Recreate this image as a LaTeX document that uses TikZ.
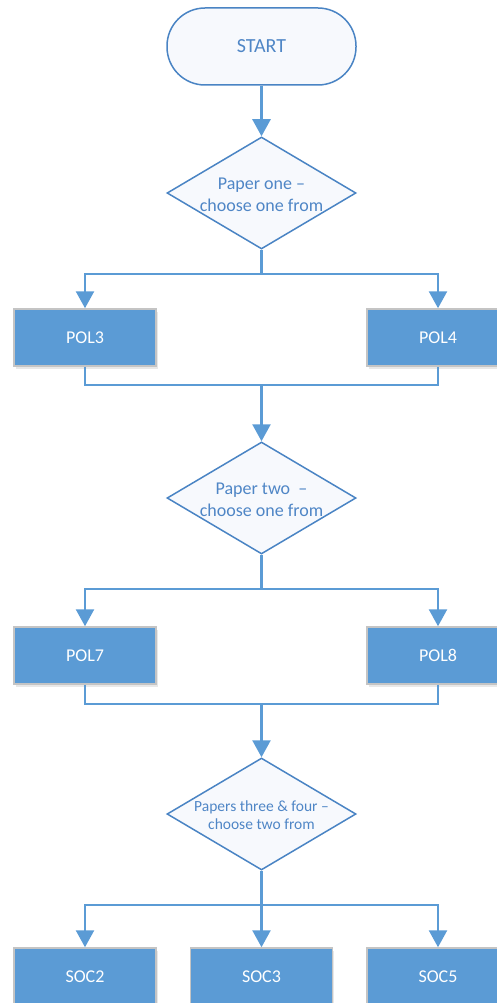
\documentclass[tikz,border=0pt]{standalone}
\usepackage{fontspec}
\setmainfont{Carlito}
\usetikzlibrary{arrows.meta,shapes.geometric,shadows}
\definecolor{lineblue}{HTML}{5B9BD5}
\definecolor{strokeblue}{HTML}{4A84C4}
\definecolor{textblue}{HTML}{4F86C6}
\definecolor{palefill}{HTML}{F7F9FD}
\definecolor{boxfill}{HTML}{5B9BD5}
\definecolor{boxedge}{HTML}{C4C4C4}
\tikzset{
  terminal/.style={draw=strokeblue, line width=1.5pt, fill=palefill, rounded corners=38pt,
    minimum width=189pt, minimum height=77pt, inner sep=0pt, text=textblue,
    font=\fontsize{20}{24}\selectfont},
  dia/.style={diamond, draw=strokeblue, line width=1.5pt, fill=palefill, inner sep=0pt,
    minimum width=189pt, minimum height=112pt, aspect=1.6875},
  dtext/.style={align=center, text=textblue, inner sep=0pt, font=\fontsize{18}{22}\selectfont},
  dtextsmall/.style={align=center, text=textblue, inner sep=0pt, font=\fontsize{15.5}{18}\selectfont},
  stepbox/.style={draw=boxedge, line width=1.5pt, fill=boxfill, minimum width=142pt,
    minimum height=57pt, inner sep=0pt, text=white, font=\fontsize{18}{22}\selectfont,
    drop shadow={opacity=0.18, shadow xshift=1.5pt, shadow yshift=-3pt}},
  conn/.style={draw=lineblue, line width=2.5pt},
  arr/.style={conn, -{Triangle[width=18pt,length=17pt]}}
}
\begin{document}
\begin{tikzpicture}[x=1pt,y=-1pt]
\useasboundingbox (0,0) rectangle (497,1003);
\clip (0,0) rectangle (497,1003);
% shapes
\node[terminal] (start) at (261.5,46.5) {START};
\node[dia] (d1) at (261.5,193) {};
\node[dtext] (t1) at (261.5,195) {Paper one –\\choose one from};
\node[stepbox] (pol3) at (85,337.5) {POL3};
\node[stepbox] (pol4) at (438,337.5) {POL4};
\node[dia] (d2) at (261.5,498) {};
\node[dtext] (t2) at (261.5,500) {Paper two\ \ –\\choose one from};
\node[stepbox] (pol7) at (85,655.5) {POL7};
\node[stepbox] (pol8) at (438,655.5) {POL8};
\node[dia] (d3) at (261.5,814) {};
\node[dtextsmall] (t3) at (261.5,815) {Papers three \&\ four –\\choose two from};
\node[stepbox] (soc2) at (85,976.5) {SOC2};
\node[stepbox] (soc3) at (261.5,976.5) {SOC3};
\node[stepbox] (soc5) at (438,976.5) {SOC5};
% junctions
\coordinate (s1) at (261.5,274);
\coordinate (m1) at (261.5,385);
\coordinate (s2) at (261.5,589);
\coordinate (m2) at (261.5,704);
\coordinate (s3) at (261.5,905);
% connectors
\draw[arr] (start.south) -- (d1.north);
\draw[conn] (d1.south) -- (s1);
\draw[arr] (s1) -| (pol3.north);
\draw[arr] (s1) -| (pol4.north);
\draw[conn] (pol3.south) |- (m1);
\draw[conn] (pol4.south) |- (m1);
\draw[arr] (m1) -- (d2.north);
\draw[conn] (d2.south) -- (s2);
\draw[arr] (s2) -| (pol7.north);
\draw[arr] (s2) -| (pol8.north);
\draw[conn] (pol7.south) |- (m2);
\draw[conn] (pol8.south) |- (m2);
\draw[arr] (m2) -- (d3.north);
\draw[conn] (d3.south) -- (s3);
\draw[arr] (s3) -| (soc2.north);
\draw[arr] (s3) -- (soc3.north);
\draw[arr] (s3) -| (soc5.north);
\end{tikzpicture}
\end{document}
